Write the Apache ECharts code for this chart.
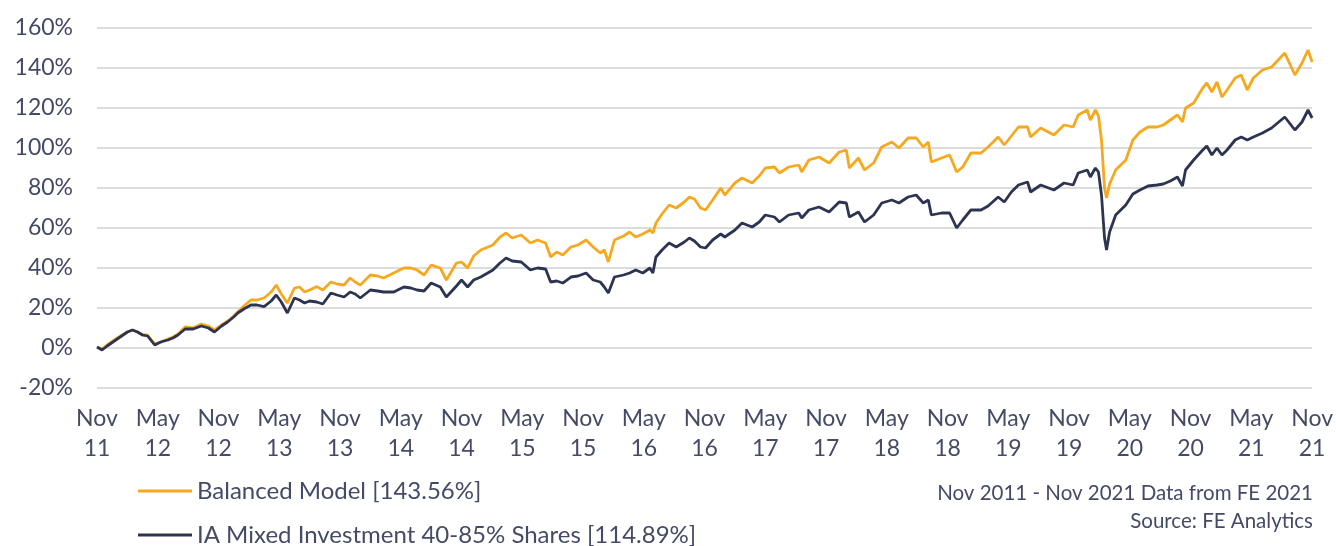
<!DOCTYPE html>
<html>
<head>
<meta charset="utf-8">
<script src="https://cdn.jsdelivr.net/npm/echarts@6/dist/echarts.min.js"></script>
<style>
  html, body { margin: 0; padding: 0; background: #fff; }
  #chart { width: 1336px; height: 546px; }
</style>
</head>
<body>
<div id="chart"></div>
<script>
  // months since Nov 2011
  var months = [
    0, 0.5, 1, 2, 3, 3.5, 4, 4.5, 5, 5.7, 6.3, 7, 7.5, 8, 8.7, 9.5, 10.3, 11, 11.6, 12.3,
    12.9, 13.5, 13.9, 14.5, 15.2, 15.8, 16.5, 17.2, 17.7, 18.2, 18.8, 19.5, 20, 20.5, 21, 21.7,
    22.3, 23.1, 23.7, 24.4, 25, 25.5, 26, 27, 27.7, 28.3, 29.3, 30.3, 31, 31.6, 32.3, 33,
    33.9, 34.5, 35.5, 36, 36.6, 37.2, 37.9, 39.1, 39.8, 40.4, 41, 41.9, 42.8, 43.5, 44.3, 44.8,
    45.4, 46, 46.8, 47.5, 48.3, 49, 49.7, 50.1, 50.5, 51.1, 52, 52.6, 53.2, 53.9, 54.6, 54.9,
    55.2, 55.8, 56.5, 57.2, 58, 58.5, 59, 59.6, 60.1, 60.8, 61.6, 62, 63, 63.7, 64.7, 65.4,
    66, 66.9, 67.4, 68.3, 69.3, 69.6, 70.3, 71.3, 72.3, 73.3, 74, 74.3, 75.2, 75.8, 76.7, 77.5,
    78.5, 79.2, 80.1, 80.9, 81.6, 82.1, 82.4, 83.4, 84.2, 84.9, 85.5, 86.3, 87.3, 88, 89, 89.6,
    90.3, 91, 91.9, 92.2, 93.2, 94.5, 95.5, 96.4, 96.9, 97.8, 98.1, 98.6, 98.9, 99.2, 99.5, 99.7,
    100, 100.6, 101.6, 102.3, 103, 103.8, 104.7, 105.3, 106, 106.7, 107.2, 107.5, 108.3, 109.2, 109.6, 110.1,
    110.6, 111.1, 111.6, 112.4, 113, 113.6, 114.2, 115.1, 116, 117.3, 118.3, 119, 119.6, 120
  ];

  var balanced = [
    0.5, -0.5, 1.5, 5, 8, 9, 8, 6.5, 6.5, 2, 3, 4.5, 5.5, 7, 10.5, 10, 12, 11, 9, 11.5,
    13.5, 16, 18, 21, 24, 24, 25, 28, 31.5, 27, 22.5, 30, 30.5, 28, 29, 30.7,
    29, 33, 32, 31.5, 35, 33, 31.5, 36.5, 36, 35, 37.5, 40, 40, 39, 36.5, 41.5,
    40, 34, 42.5, 43, 40, 46, 49, 51.5, 55.5, 57.5, 55, 56.5, 52.5, 54, 52.5, 45.5,
    48, 46.5, 50.5, 51.5, 54, 50.5, 47.5, 49, 43, 54, 56, 58, 55.5, 57, 59, 57.5,
    62.5, 67, 71.5, 70, 73, 75.5, 74.5, 70, 69, 74, 80, 76.5, 82.5, 85, 82.5, 86,
    90, 90.5, 87.5, 90.5, 91.5, 88, 94, 95.5, 92.5, 98, 99, 90, 95, 89, 92.5, 100.5,
    103, 100, 105, 105, 100.5, 103, 93, 95, 96.5, 88, 90.5, 97.5, 97.5, 100.5, 105.5, 101.5,
    106, 110.5, 110.5, 105.5, 110, 106.5, 111.5, 110.5, 116.5, 119, 114, 119, 116, 104, 80, 75,
    82, 89, 94, 104, 108, 110.5, 110.5, 111.5, 114, 116.5, 113, 120, 122.5, 130, 132.5, 128,
    133, 125.5, 129, 135, 136.5, 129, 135, 139, 140.5, 147.5, 136.5, 142.5, 149, 143
  ];

  var mixed = [
    0.5, -1, 1, 4.5, 8, 9, 8, 6.5, 6, 1.5, 3, 4, 5, 6.5, 9.5, 9.5, 11, 10, 8, 11,
    13, 15.5, 17.5, 19.5, 21.5, 21.5, 20.7, 23.5, 26.5, 23, 17.5, 25, 24, 22.5, 23.5, 23,
    22, 27.5, 26.5, 25.5, 28, 27, 25, 29, 28.5, 28, 28, 30.5, 30, 29, 28.5, 32.5,
    30.5, 25.5, 31, 34, 30.5, 34, 35.5, 39, 42.5, 45, 43.5, 43, 39, 40, 39.5, 33,
    33.5, 32.5, 35.5, 36, 37.5, 34, 33, 30.5, 27.5, 35.5, 36.5, 37.5, 39, 37.5, 40, 37.5,
    45.5, 49, 52.5, 50.5, 53, 55, 53.5, 50.5, 50, 54, 57, 55.5, 59, 62.5, 60.5, 63,
    66.5, 65.5, 63, 66.5, 67.5, 65, 69, 70.5, 68, 73, 72.5, 65.5, 68, 63, 66.5, 72.5,
    74, 72.5, 75.5, 76.5, 72.5, 74, 66.5, 67.5, 67.5, 60, 64, 69, 69, 71, 75.5, 73,
    78, 81.5, 83, 78, 81.5, 79, 82.5, 81.5, 87.5, 89, 85.5, 90, 88, 76.5, 55, 49,
    58, 66.5, 71.5, 77, 79, 81, 81.5, 82, 83.5, 85.5, 81, 89, 94, 99, 101, 96.5,
    100, 96.5, 99, 104, 105.5, 104, 105.5, 107.5, 110, 115.5, 109, 113, 119, 115
  ];

  var tickLabels = [
    'Nov\n11', 'May\n12', 'Nov\n12', 'May\n13', 'Nov\n13', 'May\n14', 'Nov\n14',
    'May\n15', 'Nov\n15', 'May\n16', 'Nov\n16', 'May\n17', 'Nov\n17', 'May\n18',
    'Nov\n18', 'May\n19', 'Nov\n19', 'May\n20', 'Nov\n20', 'May\n21', 'Nov\n21'
  ];

  var seriesNames = ['Balanced Model [143.56%]', 'IA Mixed Investment 40-85% Shares [114.89%]'];

  var textColor = '#454b66';
  var fontFamily = 'Lato, sans-serif';

  function legendAt(name, top) {
    return {
      left: 138,
      top: top,
      padding: 0,
      icon: 'rect',
      itemWidth: 54,
      itemHeight: 3,
      itemGap: 0,
      textStyle: {
        color: textColor,
        fontSize: 24,
        fontFamily: fontFamily,
        padding: [0, 0, 0, 0]
      },
      data: [name]
    };
  }

  var myChart = echarts.init(document.getElementById('chart'));
  myChart.setOption({
    animation: false,
    color: ['#f6a91e', '#2c3452'],
    grid: {
      left: 97,
      right: 18,
      top: 28,
      bottom: 158
    },
    legend: [legendAt(seriesNames[0], 479), legendAt(seriesNames[1], 523)],
    graphic: [
      {
        type: 'text',
        right: 23,
        top: 483,
        style: {
          text: 'Nov 2011 - Nov 2021 Data from FE 2021',
          fill: textColor,
          fontSize: 20.5,
          fontFamily: fontFamily
        }
      },
      {
        type: 'text',
        right: 23,
        top: 511,
        style: {
          text: 'Source: FE Analytics',
          fill: textColor,
          fontSize: 20.5,
          fontFamily: fontFamily
        }
      }
    ],
    xAxis: {
      type: 'value',
      min: 0,
      max: 120,
      interval: 6,
      axisLine: { show: false },
      axisTick: { show: false },
      splitLine: { show: false },
      axisLabel: {
        color: textColor,
        fontSize: 23,
        fontFamily: fontFamily,
        lineHeight: 30,
        margin: 16,
        showMaxLabel: true,
        showMinLabel: true,
        formatter: function (value) {
          return tickLabels[Math.round(value / 6)];
        }
      }
    },
    yAxis: {
      type: 'value',
      min: -20,
      max: 160,
      interval: 20,
      axisLine: { show: false },
      axisTick: { show: false },
      splitLine: {
        show: true,
        lineStyle: { color: '#dcdcdc', width: 2 }
      },
      axisLabel: {
        color: textColor,
        fontSize: 23,
        fontFamily: fontFamily,
        margin: 24,
        formatter: '{value}%'
      }
    },
    series: [
      {
        name: seriesNames[0],
        type: 'line',
        showSymbol: false,
        lineStyle: { width: 2.8 },
        data: months.map(function (m, i) { return [m, balanced[i]]; })
      },
      {
        name: seriesNames[1],
        type: 'line',
        showSymbol: false,
        lineStyle: { width: 2.8 },
        data: months.map(function (m, i) { return [m, mixed[i]]; })
      }
    ]
  });
</script>
</body>
</html>
